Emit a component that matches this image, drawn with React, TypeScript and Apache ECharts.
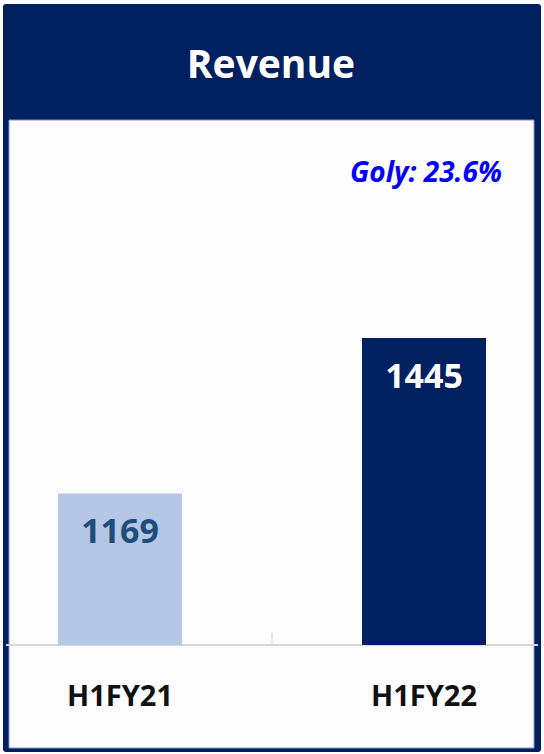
import React, { useEffect, useRef } from "react";
import * as echarts from "echarts";

const categories = ["H1FY21", "H1FY22"];
const revenue = [1169, 1445];
const barColors = ["#b4c7e7", "#002060"];
const labelColors = ["#1f4e79", "#ffffff"];
const titleText = "Revenue";
const growthText = "Goly: 23.6%";

const W = 544;
const H = 754;
const GRID_TOP = 138;
const GRID_BOTTOM = 109;
const FONT = "'Open Sans', 'Noto Sans', sans-serif";

export default function App() {
  const ref = useRef<HTMLDivElement>(null);

  useEffect(() => {
    if (!ref.current) return;
    const chart = echarts.init(ref.current, undefined, { renderer: "svg", width: W, height: H });
    const baseY = H - GRID_BOTTOM;
    chart.setOption({
      animation: false,
      backgroundColor: "#ffffff",
      grid: { left: 120, right: 120, top: GRID_TOP, bottom: GRID_BOTTOM, containLabel: false },
      xAxis: {
        type: "category",
        data: categories,
        boundaryGap: false,
        axisLine: { show: false },
        axisTick: { show: false },
        axisLabel: {
          margin: 35,
          color: "#111111",
          fontFamily: FONT,
          fontWeight: "bold",
          fontSize: 29,
        },
      },
      yAxis: {
        type: "value",
        min: 900,
        max: 1800,
        show: false,
        splitLine: { show: false },
      },
      series: [
        {
          type: "bar",
          barWidth: 124,
          data: revenue.map((v, i) => ({
            value: v,
            itemStyle: { color: barColors[i] },
            label: { color: labelColors[i] },
          })),
          label: {
            show: true,
            position: "insideTop",
            distance: 20,
            fontFamily: FONT,
            fontWeight: "bold",
            fontSize: 34,
          },
          z: 3,
        },
      ],
      graphic: [
        {
          type: "rect",
          z: -20,
          silent: true,
          shape: { x: 3, y: 4, width: 538, height: 748, r: 3 },
          style: { fill: "#002060" },
        },
        {
          type: "rect",
          z: -19,
          silent: true,
          shape: { x: 9, y: 120, width: 525, height: 628 },
          style: { fill: "#fdfdfe", stroke: "#7f97c6", lineWidth: 1 },
        },
        {
          type: "line",
          z: 1,
          silent: true,
          shape: { x1: 6, y1: baseY, x2: 538, y2: baseY },
          style: { stroke: "#d8d8d8", lineWidth: 2 },
        },
        {
          type: "text",
          z: 10,
          x: 271,
          y: 62,
          style: {
            text: titleText,
            fill: "#ffffff",
            font: `bold 39px ${FONT}`,
            textAlign: "center",
            textVerticalAlign: "middle",
          },
        },
        {
          type: "text",
          z: 10,
          x: 502,
          y: 171,
          style: {
            text: growthText,
            fill: "#0000ff",
            font: `italic bold 28px ${FONT}`,
            textAlign: "right",
            textVerticalAlign: "middle",
          },
        },
      ],
    });
    // separator tick between the two categories, placed from the axis scale
    const p0 = chart.convertToPixel({ xAxisIndex: 0 }, categories[0]) as number;
    const p1 = chart.convertToPixel({ xAxisIndex: 0 }, categories[1]) as number;
    const mid = (p0 + p1) / 2;
    chart.setOption({
      graphic: [
        {
          id: "midTick",
          type: "line",
          z: 1,
          silent: true,
          shape: { x1: mid, y1: baseY - 12, x2: mid, y2: baseY },
          style: { stroke: "#e2e2e2", lineWidth: 1.5 },
        },
      ],
    });
    return () => chart.dispose();
  }, []);

  return (
    <div
      ref={ref}
      style={{ position: "fixed", left: 0, top: 0, width: W, height: H }}
    />
  );
}
